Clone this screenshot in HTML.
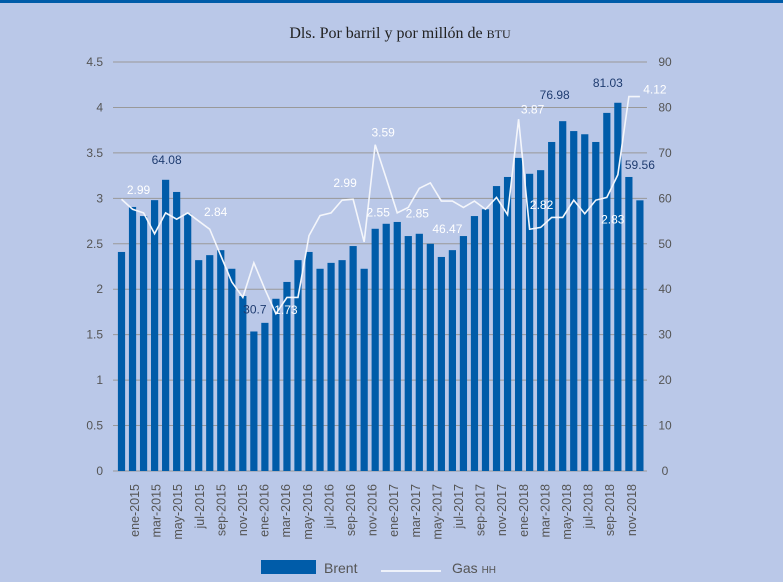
<!DOCTYPE html>
<html><head><meta charset="utf-8"><style>
html,body{margin:0;padding:0;}
body{width:783px;height:577px;background:#bac8e8;overflow:hidden;font-family:"Liberation Sans",sans-serif;}
</style></head><body>
<svg id="c" width="783" height="577" xmlns="http://www.w3.org/2000/svg">
<rect x="0" y="0" width="783" height="3" fill="#005ca9"/>
<text x="400" y="38" text-anchor="middle" font-family="Liberation Serif, serif" font-size="16" fill="#222">Dls. Por barril y por millón de <tspan font-size="12">BTU</tspan></text>
<g id="grid"></g><g id="bars"></g><g id="line"></g><g id="labels"></g><g id="axes"></g>
<g>
<rect x="261" y="560" width="55" height="14" fill="#005ca9"/>
<text x="324" y="573" font-size="14" fill="#555">Brent</text>
<line x1="381" y1="571" x2="441" y2="571" stroke="#fff" stroke-width="1.5"/>
<text x="452" y="573" font-size="14" fill="#555">Gas <tspan font-size="10">HH</tspan></text>
</g>
</svg>
<script>
const months=["ene","feb","mar","abr","may","jun","jul","ago","sep","oct","nov","dic"];
const years=[2015,2016,2017,2018];
const brent=[48.2,58.1,56.1,59.6,64.08,61.4,56.6,46.4,47.5,48.6,44.5,38.5,30.7,32.6,37.9,41.6,46.4,48.2,44.5,45.8,46.4,49.5,44.5,53.3,54.4,54.8,51.7,52.2,50.0,47.1,48.6,51.7,56.1,57.6,62.7,64.7,68.9,65.4,66.2,72.4,76.98,74.8,74.1,72.4,78.8,81.03,64.7,59.56];
const gas=[2.99,2.88,2.84,2.61,2.84,2.77,2.84,2.75,2.66,2.37,2.08,1.91,2.29,2.0,1.73,1.91,1.91,2.59,2.81,2.84,2.98,2.99,2.52,3.59,3.22,2.84,2.9,3.11,3.17,2.97,2.97,2.9,2.97,2.88,3.01,2.82,3.87,2.66,2.68,2.79,2.79,2.98,2.83,2.98,3.01,3.26,4.12,4.12];
const leftTicks=["0","0.5","1","1.5","2","2.5","3","3.5","4","4.5"];
const rightTicks=["0","10","20","30","40","50","60","70","80","90"];
const dataLabels=[["g",0,"2.99",17,-5],["g",6,"2.84",28,3],["b",4,"64.08",1,-16],["b",12,"30.7",1,-18],["g",14,"1.73",10,0],["g",20,"2.99",3,-13],["g",23,"3.59",8,-8],["g",24,"2.55",-8,38],["g",27,"2.85",-2,29],["b",30,"46.47",-5,-17],["g",36,"3.87",14,-6],["g",37,"2.82",12,-20],["b",40,"76.98",-8,-22],["b",45,"81.03",-10,-16],["b",46,"59.56",11,-8],["g",44,"2.83",6,26],["g",46,"4.12",26,-3]];
const NS="http://www.w3.org/2000/svg";
const x0=121.5,step=11.03,y0=471,ytop=62;
const X=i=>x0+i*step;
const YL=v=>y0-v/4.5*(y0-ytop);
const YR=v=>y0-v/90*(y0-ytop);
function mk(t,a,p){const e=document.createElementNS(NS,t);for(const k in a)e.setAttribute(k,a[k]);document.getElementById(p).appendChild(e);return e;}
leftTicks.forEach((t,k)=>{const y=YL(parseFloat(t));
 const l=mk("line",{x1:113,x2:647,y1:y,y2:y,stroke:"#999","stroke-width":1},"grid");
 
 
 const a=mk("text",{x:103,y:y+4,"text-anchor":"end","font-size":12,fill:"#555"},"axes");a.textContent=t;
 
 
});
rightTicks.forEach(t=>{const y=YR(parseFloat(t));
 const a=mk("text",{x:665,y:y+4,"text-anchor":"middle","font-size":12,fill:"#555"},"axes");a.textContent=t;
 
 
});
brent.forEach((v,i)=>{const y=YR(v);
 const r=mk("rect",{x:X(i)-3.6,y:y,width:7.2,height:y0-y,fill:"#005ca9"},"bars");
 
 
});
const pl=mk("polyline",{points:gas.map((v,i)=>X(i)+","+YL(v)).join(" "),fill:"none",stroke:"#f4f6fb","stroke-width":1.6},"line");


for(let k=0;k<24;k++){const i=k*2;const m=months[i%12]+"-"+years[Math.floor(i/12)];
 const cx=135+k*21.6,cy=484;
 const t=mk("text",{x:cx,y:cy,transform:`rotate(-90 ${cx} ${cy})`,"text-anchor":"end","font-size":12.5,fill:"#555",dy:"4"},"axes");t.textContent=m;
 
 
}
dataLabels.forEach(d=>{const [s,i,txt,dx,dy]=d;const y=s=="b"?YR(brent[i]):YL(gas[i]);
 const t=mk("text",{x:X(i)+dx,y:y+dy,"text-anchor":"middle","font-size":12,fill:(s=="b"&&txt!="46.47")?"#1f3c70":"#fff"},"labels");t.textContent=txt;
 
 
});
</script>
</body></html>
